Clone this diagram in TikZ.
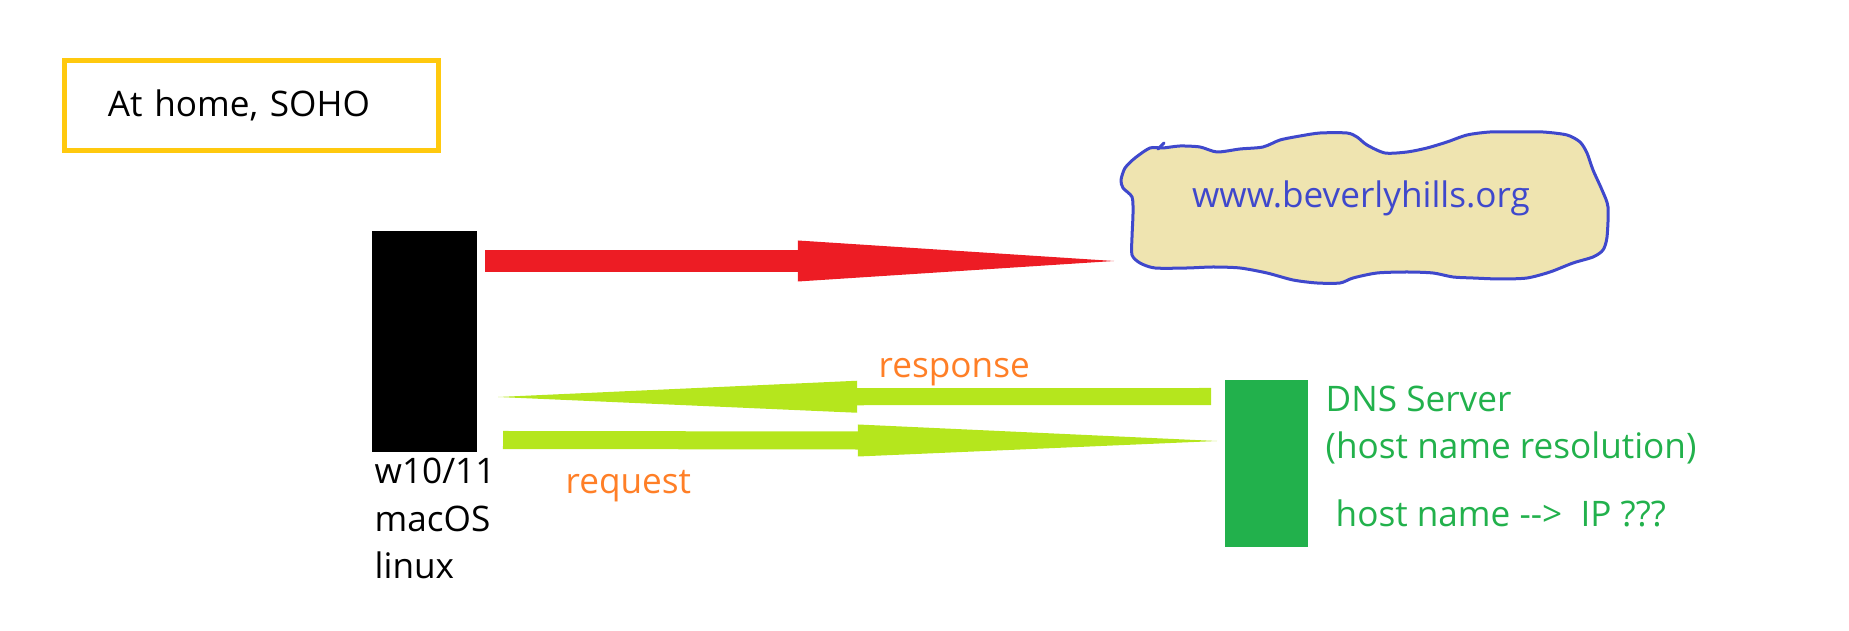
\documentclass[tikz,border=0pt]{standalone}
\usepackage{fontspec}
\setmainfont{Open Sans}
\usetikzlibrary{arrows.meta,positioning,calc}
\definecolor{soho}{RGB}{255,201,14}
\definecolor{webred}{RGB}{237,28,36}
\definecolor{cloudblue}{RGB}{63,72,204}
\definecolor{cloudfill}{RGB}{239,228,176}
\definecolor{lime}{RGB}{181,230,29}
\definecolor{dnsgreen}{RGB}{34,177,76}
\definecolor{msgorange}{RGB}{255,127,39}
\tikzset{
  txt/.style={inner sep=0pt, font=\fontsize{10}{13.6}\selectfont},
  bigred/.style={draw=webred, line width=0.22cm, -{Triangle[length=3.16cm,width=0.41cm,line width=0pt]}},
  limearrow/.style={draw=lime, line width=#1, -{Triangle[length=3.59cm,width=0.32cm,line width=0pt]}},
}
\begin{document}
\begin{tikzpicture}[x=0.01cm,y=-0.01cm]
	\useasboundingbox (0,0) rectangle (1849,631);
	% box top left
	\node[draw=soho, line width=0.05cm, minimum width=3.74cm, minimum height=0.9cm, text width=2.87cm, inner xsep=0.435cm, align=left, font=\fontsize{10}{13.6}\selectfont] (home) at (251.5,105.5) {At home, SOHO};
	% client
	\node[fill=black, minimum width=1.05cm, minimum height=2.21cm, inner sep=0pt] (pc) at (424.5,341.5) {};
	\node[txt, anchor=north west, align=left] (os) at (374,457) {w10/11\\macOS\\linux};
	% web server
	\draw[cloudblue, fill=cloudfill, line width=0.03cm] plot[smooth cycle, tension=0.45] coordinates {
		(1150,148) (1135,158) (1125,168) (1121,180) (1123,188) (1132,197) (1133,213) (1132,237) (1132,255)
		(1140,263) (1155,268) (1187,268) (1213,267) (1240,268) (1267,273) (1293,280) (1317,283) (1340,283)
		(1353,278) (1377,273) (1407,272) (1433,273) (1453,277) (1473,278) (1500,279) (1527,278) (1550,272)
		(1573,263) (1593,257) (1603,250) (1607,237) (1608,207) (1602,190) (1593,170) (1587,153) (1580,142)
		(1567,135) (1543,132) (1517,132) (1490,132) (1467,135) (1447,142) (1427,148) (1407,152) (1385,153)
		(1367,145) (1357,137) (1347,133) (1320,133) (1300,136) (1280,140) (1263,147) (1240,149) (1217,152)
		(1200,147) (1180,146) (1163,148)};
	\draw[cloudblue, line width=0.03cm, line cap=round] (1158,149) -- (1164,143);
	\node[txt, anchor=base, text=cloudblue] (site) at (1361,208) {www.beverlyhills.org};
	% dns
	\node[fill=dnsgreen, minimum width=0.83cm, minimum height=1.67cm, inner sep=0pt] (dns) at (1266.5,463.5) {};
	\node[txt, anchor=north west, align=left, text=dnsgreen] (dnstext) at (1325,385) {DNS Server\\(host name resolution)};
	\node[txt, anchor=base west, text=dnsgreen] (lookup) at (1335,527) {host name -\kern0pt-\kern0pt>\ \ IP ???};
	% arrows
	\coordinate (r1) at (485,261);
	\coordinate (r2) at (1114,261);
	\draw[bigred] (r1) -- (r2);
	\coordinate (a1) at (1211,396.5);
	\coordinate (a2) at (498,397);
	\draw[limearrow=0.17cm] (a1) -- (a2);
	\coordinate (q1) at (503,440);
	\coordinate (q2) at (1217,441);
	\draw[limearrow=0.18cm] (q1) -- (q2);
	\node[txt, anchor=base west, text=msgorange] (resp) at (878,378) {response};
	\node[txt, anchor=base west, text=msgorange] (req) at (565,494) {request};
\end{tikzpicture}
\end{document}
